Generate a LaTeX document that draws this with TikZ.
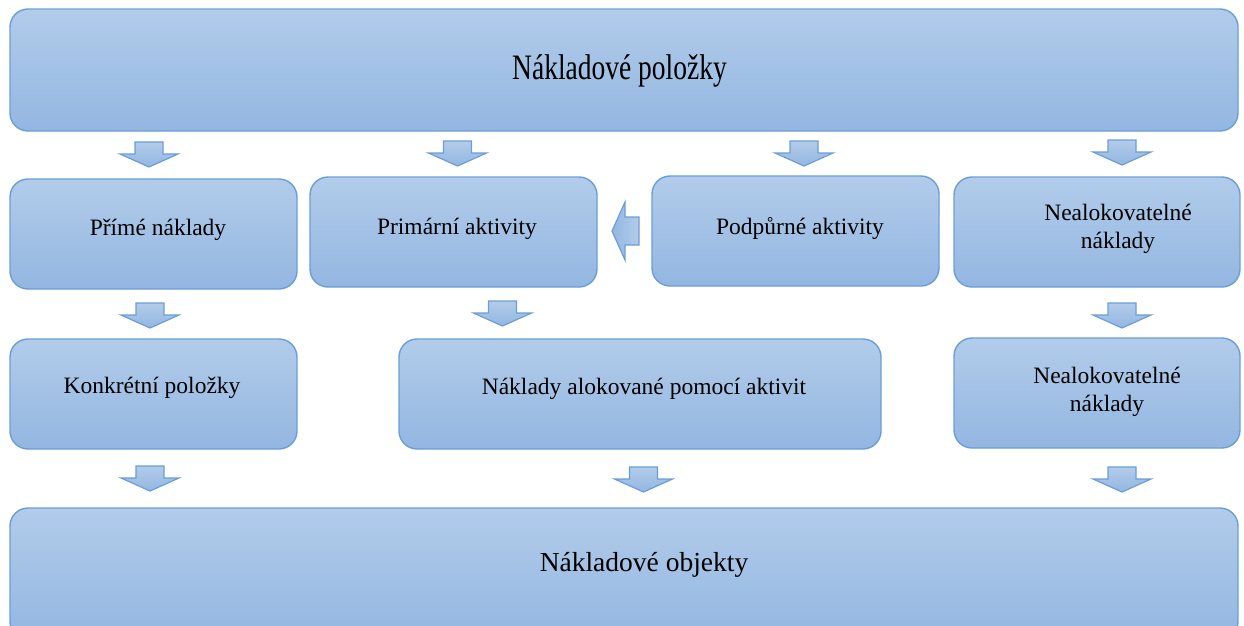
\documentclass[tikz,border=0pt]{standalone}
\usepackage{fontspec}
\setmainfont{Liberation Serif}
\usepackage{graphicx}

\definecolor{boxtop}{HTML}{B2CCEA}
\definecolor{boxbot}{HTML}{93B6E1}
\definecolor{boxline}{HTML}{6A9ED9}

\tikzset{
  box/.style={draw=boxline, line width=1.4pt, rounded corners=18pt,
    top color=boxtop, bottom color=boxbot, inner sep=0pt, outer sep=0pt},
  lbl/.style={font=\fontsize{23.5}{28}\selectfont, align=center, text=black, inner sep=0pt},
  biglbl/.style={font=\fontsize{27.5}{32}\selectfont, text=black, inner sep=0pt},
  blockarrow/.style={draw=boxline, line width=1.2pt, line join=miter,
    top color=boxtop, bottom color=boxbot},
  pics/downblock/.style={code={
    \path[blockarrow] (-14,0) -- (14,0) -- (14,12) -- (29,12) -- (0,25)
      -- (-29,12) -- (-14,12) -- cycle;}},
  pics/leftblock/.style={code={
    \path[blockarrow, left color=boxbot, right color=boxtop]
      (0,0) -- (13,-29) -- (13,-14) -- (27,-14) -- (27,14) -- (13,14)
      -- (13,29) -- cycle;}},
}

\begin{document}
\begin{tikzpicture}[x=1pt, y=-1pt]
\useasboundingbox (0,0) rectangle (1244,625);
\clip (0,0) rectangle (1244,625);

% boxes
\node[box, minimum width=1228pt, minimum height=122pt] (top) at (624,70) {};
\node[box, minimum width=287pt, minimum height=110pt] (prime) at (153.5,234) {};
\node[box, minimum width=287pt, minimum height=110pt] (primar) at (453.5,232) {};
\node[box, minimum width=287pt, minimum height=110pt] (podpur) at (795.5,231) {};
\node[box, minimum width=286pt, minimum height=110pt] (nealokA) at (1097,232) {};
\node[box, minimum width=287pt, minimum height=110pt] (konkret) at (153.5,394) {};
\node[box, minimum width=482pt, minimum height=110pt] (alok) at (640,394) {};
\node[box, minimum width=286pt, minimum height=110pt] (nealokB) at (1097,393) {};
\node[box, minimum width=1228pt, minimum height=132pt] (bottom) at (624,574) {};

% labels
\node[biglbl] (tTop) at (619.5,71) {\scalebox{1}[1.3]{Nákladové položky}};
\node[lbl] (tPrime) at (158,230) {Přímé náklady};
\node[lbl] (tPrimar) at (457,229) {Primární aktivity};
\node[lbl] (tPodpur) at (800,229) {Podpůrné aktivity};
\node[lbl] (tNealokA) at (1118,229) {Nealokovatelné\\náklady};
\node[lbl] (tKonkret) at (152,388) {Konkrétní položky};
\node[lbl] (tAlok) at (644,389) {Náklady alokované pomocí aktivit};
\node[lbl] (tNealokB) at (1107,392) {Nealokovatelné\\náklady};
\node[biglbl] (tBottom) at (644,565) {Nákladové objekty};

% block arrows
\coordinate (a1) at (149,142);
\coordinate (a2) at (457.5,141);
\coordinate (a3) at (804,141);
\coordinate (a4) at (1122,140);
\coordinate (b1) at (150,303);
\coordinate (b2) at (502.5,301);
\coordinate (b3) at (1122,303);
\coordinate (c1) at (150,466);
\coordinate (c2) at (643.5,467);
\coordinate (c3) at (1122,467);
\coordinate (l1) at (612,231);
\foreach \p in {a1,a2,a3,a4,b1,b2,b3,c1,c2,c3}
  \pic at (\p) {downblock};
\pic at (l1) {leftblock};
\end{tikzpicture}
\end{document}
